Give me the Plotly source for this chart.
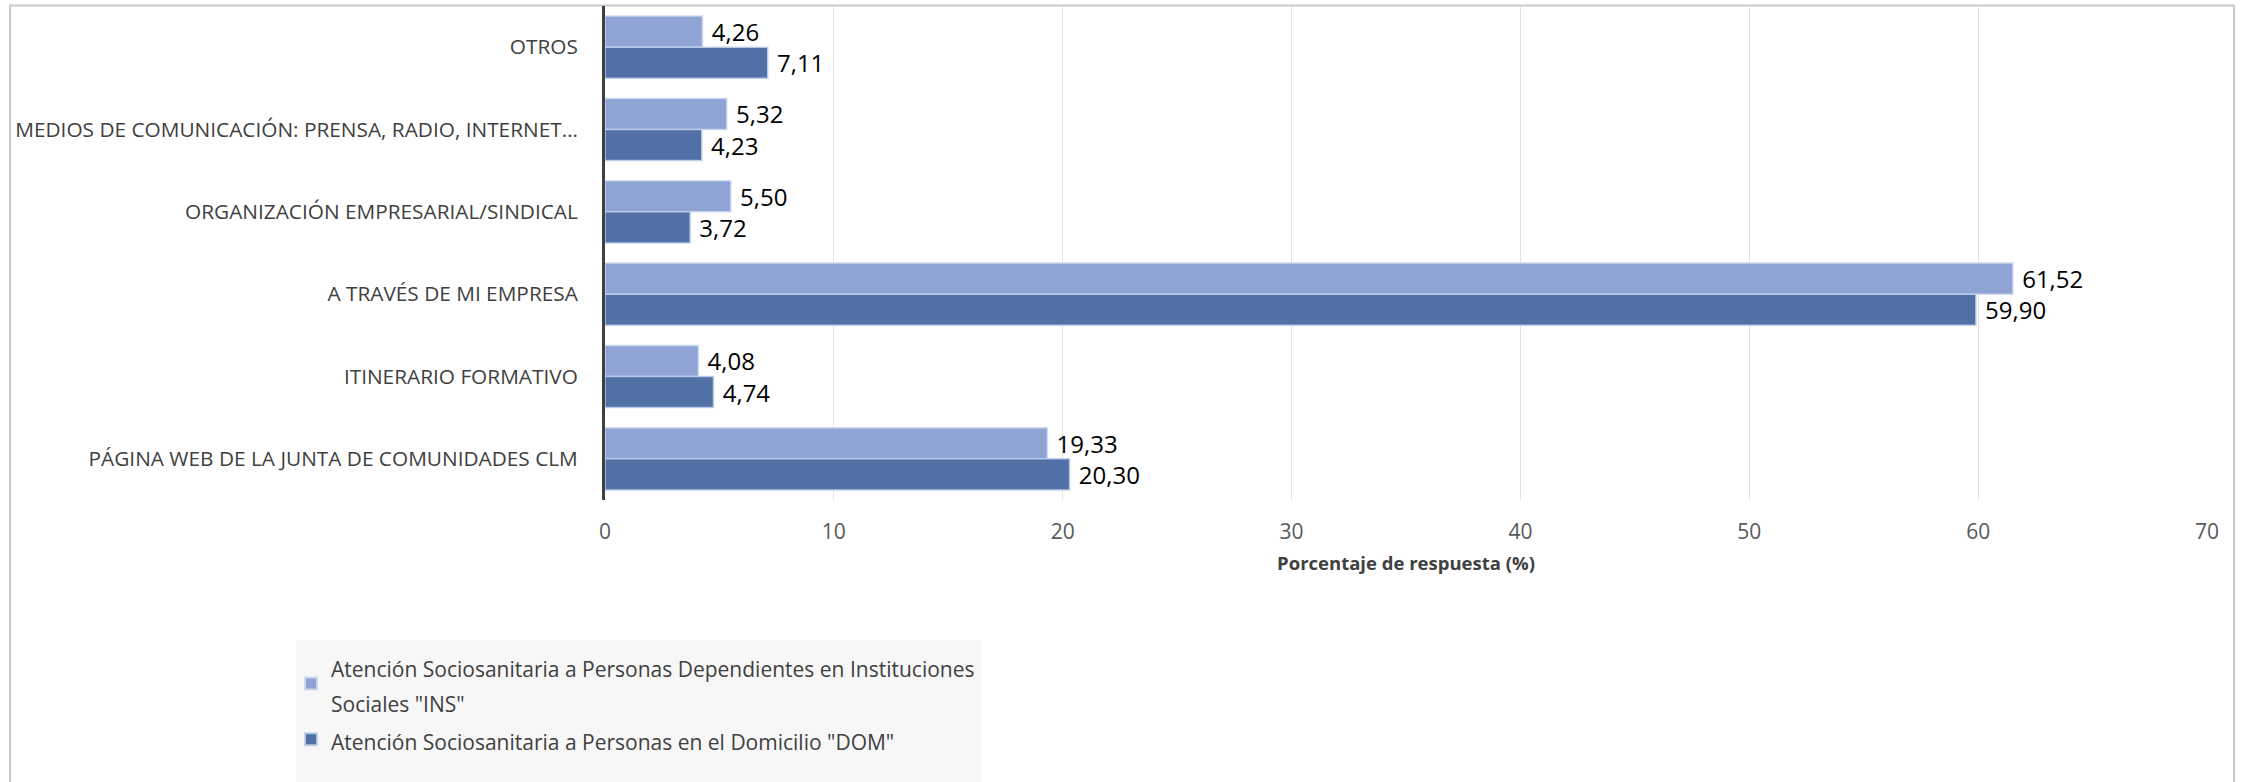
import plotly.graph_objects as go

# Categories, listed top to bottom as they appear on the chart
categories = [
    "OTROS",
    "MEDIOS DE COMUNICACIÓN: PRENSA, RADIO, INTERNET…",
    "ORGANIZACIÓN EMPRESARIAL/SINDICAL",
    "A TRAVÉS DE MI EMPRESA",
    "ITINERARIO FORMATIVO",
    "PÁGINA WEB DE LA JUNTA DE COMUNIDADES CLM",
]
ins_values = [4.26, 5.32, 5.50, 61.52, 4.08, 19.33]
dom_values = [7.11, 4.23, 3.72, 59.90, 4.74, 20.30]

ins_name = "Atención Sociosanitaria a Personas Dependientes en Instituciones<br>Sociales \"INS\""
dom_name = "Atención Sociosanitaria a Personas en el Domicilio \"DOM\""

x_ticks = [0, 10, 20, 30, 40, 50, 60, 70]

W, H = 2244, 782
L, R, T, B = 605, 2207, 6, 500  # plot area in pixels


def px(x):
    return (x - L) / (R - L)


def py(y):
    return (B - y) / (B - T)


def fmt(v):
    return " " + f"{v:.2f}".replace(".", ",")


LEG_FONT = 21


def leg(name):
    return f"<span style='font-size:{LEG_FONT}px'>{name}</span>"


fig = go.Figure()
fig.add_trace(go.Bar(
    y=categories, x=ins_values, orientation="h", name=leg(ins_name),
    marker=dict(color="rgb(143,163,212)", line=dict(color="rgba(205,215,240,0.9)", width=1.5)),
    text=[fmt(v) for v in ins_values], textposition="outside",
    textfont=dict(size=24, color="#000000", family="Open Sans"),
    constraintext="none", cliponaxis=False,
))
fig.add_trace(go.Bar(
    y=categories, x=dom_values, orientation="h", name=leg(dom_name),
    marker=dict(color="rgb(80,112,166)", line=dict(color="rgba(190,205,235,0.9)", width=1.5)),
    text=[fmt(v) for v in dom_values], textposition="outside",
    textfont=dict(size=24, color="#000000", family="Open Sans"),
    constraintext="none", cliponaxis=False,
))

shapes = [
    # outer chart frame
    dict(type="rect", xref="paper", yref="paper",
         x0=px(10), x1=px(2234), y0=py(830), y1=py(5.5),
         line=dict(color="#c9c9c9", width=2), fillcolor="rgba(0,0,0,0)", layer="below"),
    # legend panel
    dict(type="rect", xref="paper", yref="paper",
         x0=px(296), x1=px(982), y0=py(800), y1=py(640),
         line=dict(width=0), fillcolor="#f7f7f7", layer="below"),
]

fig.update_layout(
    width=W, height=H,
    margin=dict(l=L, r=W - R, t=T, b=H - B, autoexpand=False),
    paper_bgcolor="white", plot_bgcolor="white",
    font=dict(family="Open Sans", color="#404040"),
    barmode="group", bargap=0.245, bargroupgap=0,
    shapes=shapes,
    showlegend=True,
    legend=dict(
        x=px(291), y=py(642), xanchor="left", yanchor="top",
        bgcolor="rgba(0,0,0,0)", font=dict(size=27, color="#404040"),
        tracegroupgap=0, itemsizing="constant",
    ),
    xaxis=dict(
        range=[0, 70], tickvals=x_ticks, ticktext=[str(t) for t in x_ticks],
        showgrid=True, gridcolor="#e2e2e2", gridwidth=1.2, zeroline=False,
        showline=False, ticks="", ticklabelstandoff=17, automargin=False,
        tickfont=dict(size=21, color="#595959"),
        title=dict(text="<b>Porcentaje de respuesta (%)</b>", standoff=13,
                   font=dict(size=18.5, color="#404040")),
    ),
    yaxis=dict(
        autorange="reversed", type="category",
        showgrid=False, zeroline=False, automargin=False,
        showline=True, linecolor="#404040", linewidth=3,
        ticks="", ticklabelstandoff=20,
        tickfont=dict(size=20.8, color="#404040"),
    ),
)

fig.write_html("out.html")
